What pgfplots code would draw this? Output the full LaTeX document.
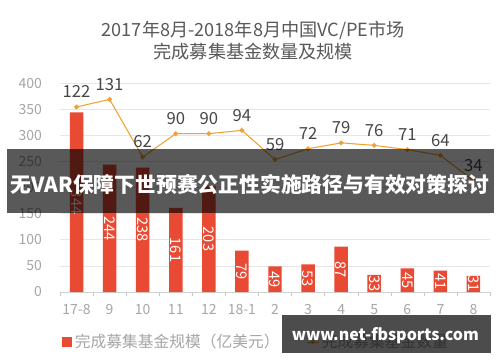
\documentclass[border=0pt]{standalone}
\usepackage{pgfplots}
\pgfplotsset{compat=1.18}
\usepackage{pgfplotstable}
\usepackage{fontspec}
\setmainfont{Noto Sans CJK SC}
\definecolor{barred}{HTML}{E84A33}
\definecolor{lineor}{HTML}{F0A332}
\definecolor{titlegray}{HTML}{595959}
\definecolor{tickgray}{HTML}{A6A6A6}
\definecolor{gridgray}{HTML}{E6E6E6}
\pgfplotstableread{
idx size count
0 344 122
1 244 131
2 238 62
3 161 90
4 203 90
5 79 94
6 49 59
7 53 72
8 87 79
9 33 76
10 45 71
11 41 64
12 31 34
}\datatable
\begin{document}
\begin{tikzpicture}
\path[use as bounding box, fill=white] (0,0) rectangle (375pt,271.5pt);
\node[font=\fontsize{13.6}{15}\selectfont, text=titlegray] at (190pt,249pt) {2017年8月-2018年8月中国VC/PE市场};
\node[font=\fontsize{13.6}{15}\selectfont, text=titlegray] at (190pt,232.5pt) {完成募集基金数量及规模};
\begin{axis}[
  at={(45pt,52.5pt)}, anchor=south west,
  scale only axis, width=322.5pt, height=156.75pt,
  xmin=-0.5, xmax=12.5, ymin=0, ymax=400,
  ytick={0,50,...,400},
  xtick={0,...,12},
  xticklabels={17-8,9,10,11,12,18-1,2,3,4,5,6,7,8},
  minor xtick={-0.5,0.5,...,12.5},
  major tick length=0pt,
  minor tick length=3pt,
  tick align=outside,
  every minor tick/.style={draw=gridgray!70!gray},
  axis y line*=left,
  y axis line style={draw=none},
  axis x line*=bottom,
  x axis line style={draw=gridgray!80!gray, -},
  ymajorgrids, grid style={draw=gridgray, line width=0.5pt},
  tick label style={font=\fontsize{10.5}{12}\selectfont, text=tickgray},
  /pgf/number format/assume math mode=true,
  xticklabel style={yshift=-6pt},
  yticklabel style={xshift=-10pt},
  clip=false,
  legend style={at={(axis description cs:0.005,-0.24)}, anchor=west, draw=none, fill=none,
    font=\fontsize{11.8}{13}\selectfont, text=tickgray, legend columns=2,
    /tikz/every odd column/.append style={column sep=0pt},
    /tikz/every even column/.append style={column sep=18pt},
    inner sep=0pt},
  legend cell align=left,
]
\addplot[ybar, bar width=10.1pt, fill=barred, draw=none,
  legend image code/.code={\fill[barred] (0pt,-3.6pt) rectangle (7.4pt,3.6pt);}]
  table[x=idx,y=size]{\datatable};
\addlegendentry{完成募集基金规模（亿美元）}
\addlegendimage{legend image code/.code={\draw[lineor, line width=0.8pt] (0pt,0pt) -- (9pt,0pt); \fill[lineor] (4.5pt,0pt) circle (1.4pt);}}
\addlegendentry{完成募集基金数量}
\addplot[draw=none, mark=none, nodes near coords, point meta=explicit, forget plot,
  every node near coord/.style={rotate=-90, anchor=center, text=white, font=\fontsize{11}{12}\selectfont}]
  table[x=idx, y expr=\thisrow{size}/2, meta=size]{\datatable};
\end{axis}
\begin{axis}[
  at={(45pt,52.5pt)}, anchor=south west,
  scale only axis, width=322.5pt, height=156.75pt,
  xmin=-0.5, xmax=12.5, ymin=-99.375, ymax=150.625,
  axis lines=none, clip=false,
  /pgf/number format/assume math mode=true,
]
\addplot[lineor, line width=0.8pt, mark=*, mark size=1.4pt, mark options={fill=lineor, draw=lineor},
  nodes near coords, point meta=explicit,
  every node near coord/.style={anchor=south, yshift=3pt, text=black!72, font=\fontsize{12.5}{13}\selectfont}]
  table[x=idx, y=count, meta=count]{\datatable};
\end{axis}
\fill[black, opacity=0.65] (5.25pt,111.75pt) rectangle (370.5pt,159.75pt);
\node[text=white, font=\fontsize{15.6}{18}\selectfont\bfseries] at (187.5pt,133.5pt) {无VAR保障下世预赛公正性实施路径与有效对策探讨};
\fill[black, opacity=0.7] (211.5pt,6.75pt) rectangle (368.25pt,35.25pt);
\node[text=white, font=\fontsize{12}{14}\selectfont\bfseries] at (289pt,20pt) {www.net-fbsports.com};
\end{tikzpicture}
\end{document}
